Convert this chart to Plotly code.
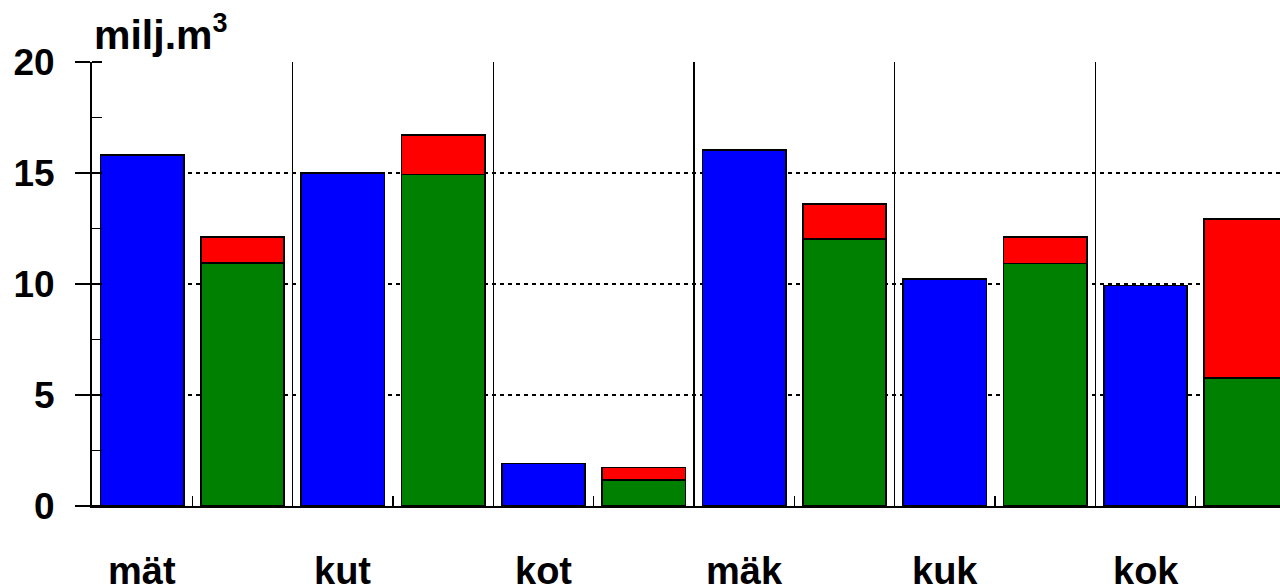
import plotly.graph_objects as go

categories = ["mät", "kut", "kot", "mäk", "kuk", "kok"]
blue_vals = [15.81, 15.0, 1.92, 16.04, 10.23, 9.93]
green_vals = [10.95, 14.94, 1.17, 12.03, 10.93, 5.77]
red_vals = [1.17, 1.77, 0.56, 1.57, 1.19, 7.16]
y_ticks = [0, 5, 10, 15, 20]
y_title = "milj.m<sup><span style='font-size:27px'>3</span></sup>"

FONT = "Liberation Sans, Arial, sans-serif"
n = len(categories)
idx = list(range(n))
x_blue = [i + 0.25 for i in idx]
x_pair = [i + 0.75 for i in idx]
bw = 0.415
line = dict(color="black", width=1.5)

fig = go.Figure()
fig.add_trace(go.Bar(x=x_blue, y=blue_vals, width=bw, marker=dict(color="#0000FF", line=line), showlegend=False))
fig.add_trace(go.Bar(x=x_pair, y=green_vals, width=bw, marker=dict(color="#008000", line=line), showlegend=False))
fig.add_trace(go.Bar(x=x_pair, y=red_vals, width=bw, marker=dict(color="#FF0000", line=line), showlegend=False))

fig.update_layout(
    barmode="stack",
    width=1280, height=586,
    margin=dict(l=92, r=0, t=62, b=80),
    paper_bgcolor="white", plot_bgcolor="white",
    font=dict(family=FONT, color="black"),
    hovermode=False,
    xaxis=dict(
        range=[0, 5.92],
        tickmode="array", tickvals=[i for i in range(1, n)], showticklabels=False,
        ticks="", showgrid=True, gridcolor="black", gridwidth=1.4,
        showline=True, linecolor="black", linewidth=2, zeroline=False,
        minor=dict(tickmode="array", tickvals=[i + 0.5 for i in idx], ticks="inside",
                   ticklen=10, tickwidth=1.5, tickcolor="black", showgrid=False),
    ),
    yaxis=dict(
        range=[0, 20], tickmode="array", tickvals=y_ticks,
        ticks="outside", ticklen=15, tickwidth=2, tickcolor="black",
        ticklabelstandoff=13,
        tickfont=dict(family=FONT, size=37, weight="bold"),
        showgrid=True, gridcolor="black", gridwidth=2, griddash="4px,4px",
        showline=True, linecolor="black", linewidth=2, zeroline=False,
        minor=dict(tickmode="array", tickvals=[v * 2.5 for v in range(9)], ticks="inside",
                   ticklen=10, tickwidth=1.5, tickcolor="black", showgrid=False),
    ),
)

for c, xb in zip(categories, x_blue):
    fig.add_annotation(x=xb, xref="x", y=0, yref="paper", yanchor="top", yshift=-42,
                       text=c, showarrow=False,
                       font=dict(family=FONT, size=38, weight="bold"))

fig.add_annotation(x=0, xref="paper", xanchor="left", xshift=0, y=1, yref="paper",
                   yanchor="bottom", yshift=2, text=y_title, showarrow=False,
                   font=dict(family=FONT, size=41, weight="bold"))

fig.write_html("out.html", config={"displayModeBar": False, "staticPlot": True},
               post_script="document.body.style.margin='0';document.body.style.overflow='hidden';")
